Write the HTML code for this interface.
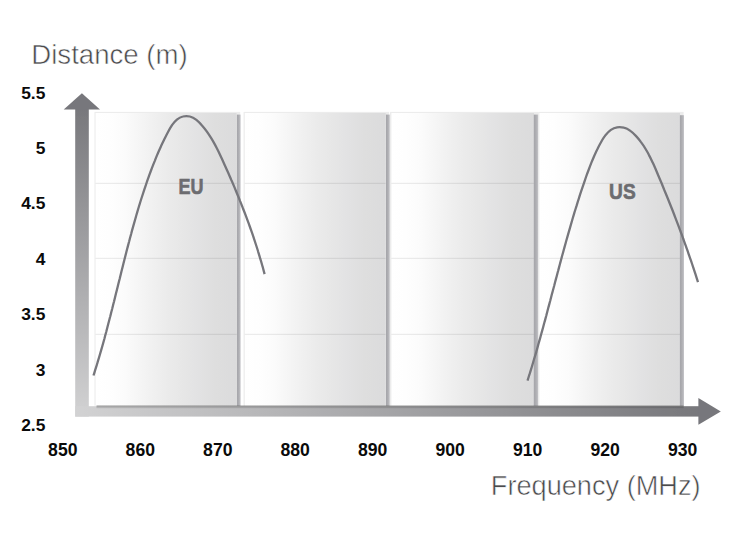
<!DOCTYPE html>
<html>
<head>
<meta charset="utf-8">
<title>Distance vs Frequency</title>
<style>
html,body{margin:0;padding:0;background:#fff;}
body{width:750px;height:545px;overflow:hidden;font-family:"Liberation Sans",sans-serif;}
svg{display:block;}
text{font-family:"Liberation Sans",sans-serif;}
.yl{font-weight:bold;font-size:17.4px;fill:#0a0a0a;text-anchor:end;}
.xl{font-weight:bold;font-size:17.6px;fill:#0a0a0a;text-anchor:middle;}
.ttl{font-size:27px;fill:#4a4a4c;stroke:#fff;stroke-width:0.55px;paint-order:fill stroke;}
.lab{font-weight:bold;font-size:21.3px;fill:#6c6c70;stroke:#6c6c70;stroke-width:0.6px;text-anchor:middle;}
</style>
</head>
<body>
<svg width="750" height="545" viewBox="0 0 750 545">
<defs>
<linearGradient id="pg" x1="0" y1="0" x2="1" y2="0">
<stop offset="0" stop-color="#ffffff"/>
<stop offset="0.10" stop-color="#fefefe"/>
<stop offset="0.21" stop-color="#fbfbfb"/>
<stop offset="0.30" stop-color="#f6f6f6"/>
<stop offset="0.41" stop-color="#f0f0f0"/>
<stop offset="0.51" stop-color="#ebebeb"/>
<stop offset="0.61" stop-color="#e7e7e7"/>
<stop offset="0.73" stop-color="#e2e2e3"/>
<stop offset="0.85" stop-color="#dedede"/>
<stop offset="1" stop-color="#dbdbdc"/>
</linearGradient>
<linearGradient id="vg" x1="0" y1="0" x2="0" y2="1">
<stop offset="0" stop-color="#77777b"/>
<stop offset="1" stop-color="#d2d2d3"/>
</linearGradient>
<linearGradient id="hg" x1="0" y1="0" x2="1" y2="0">
<stop offset="0" stop-color="#d2d2d3"/>
<stop offset="1" stop-color="#77777b"/>
</linearGradient>
<linearGradient id="sh" x1="0" y1="0" x2="0" y2="1">
<stop offset="0" stop-color="#000" stop-opacity="0.34"/>
<stop offset="1" stop-color="#000" stop-opacity="0"/>
</linearGradient>
<filter id="b1" x="-5%" y="-5%" width="110%" height="110%"><feGaussianBlur stdDeviation="0.45"/></filter>
<linearGradient id="st" x1="0" y1="0" x2="1" y2="0">
<stop offset="0" stop-color="#a4a4a9"/>
<stop offset="0.55" stop-color="#b0b0b4"/>
<stop offset="1" stop-color="#c6c6ca"/>
</linearGradient>
</defs>
<rect width="750" height="545" fill="#fff"/>

<!-- axes -->
<g filter="url(#b1)">
<rect x="75.2" y="105" width="13.6" height="311.6" fill="url(#vg)"/>
<polygon points="63.7,109.6 81.9,93.2 100,109.6" fill="#77777b"/>
<rect x="75.2" y="406.2" width="625" height="10.4" fill="url(#hg)"/>
<polygon points="698.4,398 720.8,411.4 698.4,424.8" fill="#77777b"/>
</g>

<!-- panels -->
<g filter="url(#b1)">
<g>
<rect x="94.5" y="111.9" width="145.7" height="293.9" fill="#ececec"/>
<rect x="95.6" y="113.0" width="141" height="292.8" fill="url(#pg)"/>
<rect x="236.9" y="114.6" width="3.7" height="291.2" fill="url(#st)"/>
</g>
<g>
<rect x="243.6" y="111.9" width="145.5" height="293.9" fill="#ececec"/>
<rect x="244.8" y="113.0" width="141" height="292.8" fill="url(#pg)"/>
<rect x="386" y="114.6" width="3.8" height="291.2" fill="url(#st)"/>
</g>
<g>
<rect x="390" y="111.9" width="148.2" height="293.9" fill="#ececec"/>
<rect x="391.4" y="113.0" width="142.6" height="292.8" fill="url(#pg)"/>
<rect x="533.8" y="114.6" width="4.6" height="291.2" fill="url(#st)"/>
</g>
<g>
<rect x="538.2" y="111.9" width="145.4" height="293.9" fill="#ececec"/>
<rect x="539.4" y="113.0" width="140.6" height="292.8" fill="url(#pg)"/>
<rect x="679.9" y="115.2" width="4.1" height="290.6" fill="url(#st)"/>
</g>
<!-- gridlines -->
<g stroke="#000" stroke-opacity="0.075" stroke-width="1.2">
<path d="M95.6 183.4H236.8M244.8 183.4H385.6M391.4 183.4H533.8M539.4 183.4H679.9"/>
<path d="M95.6 258.3H236.8M244.8 258.3H385.6M391.4 258.3H533.8M539.4 258.3H679.9"/>
<path d="M95.6 334.3H236.8M244.8 334.3H385.6M391.4 334.3H533.8M539.4 334.3H679.9"/>
</g>
<!-- shadow at bottom of panels -->
<rect x="96.5" y="405.4" width="587.2" height="3.4" fill="url(#sh)"/>
</g>

<!-- curves -->
<g fill="none" stroke="#76767b" stroke-width="2.3" stroke-linecap="butt" filter="url(#b1)">
<path id="eu" d="M93.5 375.5C94.3 373.1 95.0 370.6 95.8 368.2C96.6 365.8 97.3 363.3 98.0 360.9C98.8 358.4 99.5 356.0 100.2 353.5C100.9 351.1 101.6 348.6 102.3 346.2C103.0 343.7 103.7 341.2 104.4 338.7C105.0 336.3 105.7 333.8 106.4 331.3C107.0 328.8 107.7 326.3 108.3 323.8C109.0 321.3 109.6 318.8 110.3 316.3C110.9 313.8 111.5 311.3 112.2 308.8C112.8 306.3 113.4 303.8 114.1 301.3C114.7 298.8 115.3 296.3 115.9 293.8C116.6 291.3 117.2 288.8 117.8 286.3C118.4 283.8 119.0 281.3 119.7 278.8C120.3 276.3 120.9 273.8 121.5 271.2C122.2 268.7 122.8 266.2 123.4 263.7C124.0 261.2 124.7 258.7 125.3 256.2C125.9 253.7 126.6 251.2 127.2 248.7C127.9 246.2 128.5 243.7 129.2 241.3C129.8 238.8 130.5 236.3 131.2 233.8C131.8 231.3 132.5 228.8 133.2 226.4C133.9 223.9 134.6 221.4 135.3 219.0C136.0 216.5 136.7 214.1 137.4 211.6C138.2 209.1 138.9 206.7 139.6 204.3C140.4 201.8 141.1 199.4 141.9 197.0C142.7 194.5 143.5 192.1 144.3 189.7C145.1 187.3 145.9 184.9 146.7 182.5C147.5 180.1 148.4 177.7 149.2 175.3C150.1 172.9 151.0 170.6 151.9 168.2C152.8 165.8 153.7 163.4 154.7 161.1C155.6 158.7 156.6 156.3 157.6 153.9C158.7 151.5 159.7 149.1 160.8 146.7C161.9 144.3 163.1 141.9 164.2 139.5C165.4 137.1 166.6 134.6 167.9 132.2C169.2 129.8 170.6 127.4 172.0 125.2C173.5 123.1 175.1 121.2 176.9 119.7C178.7 118.2 180.7 117.0 182.9 116.5C185.2 115.9 187.6 115.9 189.9 116.5C192.3 117.1 194.4 118.3 196.4 119.8C198.4 121.4 200.3 123.4 202.0 125.4C203.8 127.4 205.4 129.5 206.9 131.7C208.4 133.8 209.8 136.0 211.2 138.2C212.6 140.4 213.8 142.6 215.1 144.9C216.3 147.2 217.4 149.4 218.6 151.7C219.7 154.1 220.8 156.4 221.9 158.7C222.9 161.0 224.0 163.4 225.0 165.7C226.1 168.1 227.1 170.4 228.2 172.7C229.2 175.1 230.2 177.4 231.2 179.8C232.3 182.1 233.3 184.5 234.3 186.9C235.3 189.2 236.2 191.6 237.2 194.0C238.2 196.3 239.2 198.7 240.1 201.1C241.1 203.5 242.0 205.8 242.9 208.2C243.9 210.6 244.8 213.0 245.7 215.4C246.6 217.8 247.5 220.2 248.4 222.6C249.3 225.0 250.1 227.5 251.0 229.9C251.8 232.3 252.7 234.7 253.5 237.2C254.3 239.6 255.1 242.0 255.9 244.5C256.7 246.9 257.5 249.4 258.2 251.8C259.0 254.3 259.7 256.7 260.4 259.2C261.2 261.7 261.9 264.2 262.6 266.6C263.2 269.1 263.9 271.6 264.6 274.1"/>
<path id="us" d="M527.5 380.6C528.3 378.2 529.0 375.8 529.8 373.4C530.5 371.0 531.3 368.6 532.0 366.2C532.7 363.8 533.4 361.4 534.1 359.0C534.9 356.6 535.6 354.2 536.3 351.8C537.0 349.3 537.7 346.9 538.3 344.5C539.0 342.1 539.7 339.6 540.4 337.2C541.1 334.7 541.7 332.3 542.4 329.9C543.1 327.4 543.7 325.0 544.4 322.5C545.1 320.1 545.7 317.6 546.4 315.2C547.0 312.7 547.7 310.3 548.3 307.8C549.0 305.4 549.6 302.9 550.3 300.5C550.9 298.0 551.6 295.6 552.2 293.1C552.9 290.7 553.5 288.2 554.2 285.7C554.8 283.3 555.5 280.8 556.1 278.4C556.8 275.9 557.4 273.5 558.1 271.0C558.7 268.6 559.4 266.1 560.0 263.7C560.7 261.2 561.4 258.8 562.0 256.3C562.7 253.9 563.4 251.4 564.0 249.0C564.7 246.5 565.4 244.1 566.0 241.7C566.7 239.2 567.4 236.8 568.1 234.4C568.8 231.9 569.5 229.5 570.2 227.1C570.9 224.7 571.6 222.3 572.3 219.8C573.0 217.4 573.7 215.0 574.4 212.6C575.2 210.2 575.9 207.8 576.7 205.4C577.4 203.0 578.1 200.6 578.9 198.3C579.7 195.9 580.4 193.5 581.2 191.1C582.0 188.8 582.8 186.4 583.6 184.1C584.4 181.7 585.2 179.4 586.0 177.0C586.8 174.7 587.7 172.3 588.6 170.0C589.5 167.6 590.4 165.3 591.3 162.9C592.3 160.6 593.3 158.2 594.3 155.8C595.4 153.4 596.5 151.0 597.7 148.6C598.8 146.2 600.1 143.8 601.4 141.5C602.7 139.1 604.2 136.9 605.7 134.9C607.3 133.0 609.0 131.3 610.9 129.9C612.8 128.6 614.8 127.7 617.1 127.3C619.3 127.0 621.6 127.1 623.9 127.7C626.2 128.2 628.4 129.4 630.4 130.9C632.4 132.3 634.3 134.2 636.1 136.1C637.9 138.0 639.5 140.0 641.0 142.1C642.6 144.2 644.0 146.3 645.3 148.5C646.6 150.6 647.9 152.8 649.0 155.1C650.2 157.3 651.3 159.6 652.4 161.9C653.4 164.1 654.5 166.5 655.5 168.8C656.5 171.1 657.4 173.4 658.4 175.7C659.4 178.1 660.4 180.4 661.4 182.7C662.3 185.0 663.3 187.4 664.2 189.7C665.2 192.0 666.1 194.4 667.1 196.7C668.0 199.0 669.0 201.4 669.9 203.7C670.8 206.0 671.8 208.4 672.7 210.7C673.6 213.1 674.5 215.4 675.4 217.8C676.3 220.1 677.2 222.5 678.1 224.8C679.0 227.2 679.8 229.5 680.7 231.9C681.6 234.3 682.5 236.6 683.3 239.0C684.2 241.4 685.0 243.7 685.9 246.1C686.7 248.5 687.6 250.9 688.4 253.3C689.2 255.6 690.0 258.0 690.9 260.4C691.7 262.8 692.5 265.2 693.3 267.6C694.1 270.0 694.9 272.4 695.7 274.9C696.4 277.3 697.2 279.7 698.0 282.1"/>
</g>

<!-- labels -->
<text class="lab" x="191" y="194.1" textLength="25" lengthAdjust="spacingAndGlyphs">EU</text>
<text class="lab" x="622.4" y="199.4" textLength="26.6" lengthAdjust="spacingAndGlyphs">US</text>

<text class="yl" x="45.4" y="98.6">5.5</text>
<text class="yl" x="45.4" y="154">5</text>
<text class="yl" x="45.4" y="209.4">4.5</text>
<text class="yl" x="45.4" y="264.7">4</text>
<text class="yl" x="45.4" y="320.1">3.5</text>
<text class="yl" x="45.4" y="375.5">3</text>
<text class="yl" x="45.4" y="430.8">2.5</text>

<text class="xl" x="62.8" y="455.5">850</text>
<text class="xl" x="140.3" y="455.5">860</text>
<text class="xl" x="217.8" y="455.5">870</text>
<text class="xl" x="295.2" y="455.5">880</text>
<text class="xl" x="372.7" y="455.5">890</text>
<text class="xl" x="450.2" y="455.5">900</text>
<text class="xl" x="527.7" y="455.5">910</text>
<text class="xl" x="605.1" y="455.5">920</text>
<text class="xl" x="682.6" y="455.5">930</text>

<text class="ttl" x="31.3" y="64.2" textLength="156.4" lengthAdjust="spacingAndGlyphs">Distance (m)</text>
<text class="ttl" x="490.8" y="494.7" textLength="209.8" lengthAdjust="spacingAndGlyphs">Frequency (MHz)</text>
</svg>
</body>
</html>
